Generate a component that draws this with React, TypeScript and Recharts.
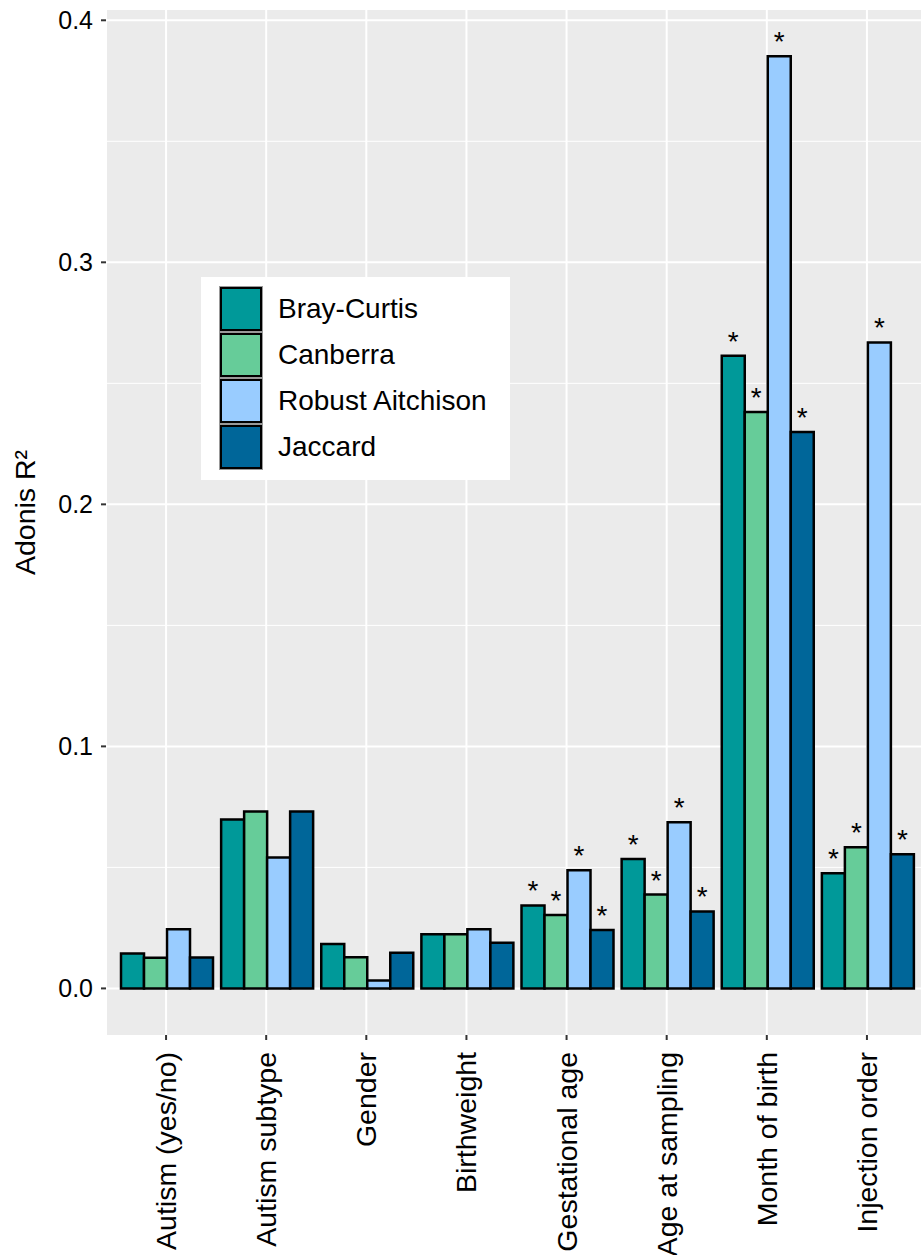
import React from "react";
import {
  BarChart,
  Bar,
  XAxis,
  YAxis,
  CartesianGrid,
  Legend,
  LabelList,
} from "recharts";

const categories = [
  "Autism (yes/no)",
  "Autism subtype",
  "Gender",
  "Birthweight",
  "Gestational age",
  "Age at sampling",
  "Month of birth",
  "Injection order",
];

const brayCurtis = [0.0144, 0.0698, 0.0184, 0.0224, 0.0343, 0.0535, 0.2614, 0.0476];
const canberra = [0.0127, 0.0731, 0.0129, 0.0224, 0.0303, 0.0388, 0.2382, 0.0583];
const robustAitchison = [0.0244, 0.0541, 0.0033, 0.0244, 0.0488, 0.0687, 0.3851, 0.2669];
const jaccard = [0.0128, 0.0731, 0.0147, 0.0189, 0.0241, 0.0318, 0.2299, 0.0554];

const brayCurtisSig = [false, false, false, false, true, true, true, true];
const canberraSig = [false, false, false, false, true, true, true, true];
const robustAitchisonSig = [false, false, false, false, true, true, true, true];
const jaccardSig = [false, false, false, false, true, true, true, true];

const yTicks = [0, 0.1, 0.2, 0.3, 0.4];
const yMinorTicks = [0.05, 0.15, 0.25, 0.35];
const yDomain = [-0.01925, 0.40425];

const series = [
  { key: "bc", name: "Bray-Curtis", color: "#009999" },
  { key: "ca", name: "Canberra", color: "#66CC99" },
  { key: "ra", name: "Robust Aitchison", color: "#99CCFF" },
  { key: "ja", name: "Jaccard", color: "#006699" },
];

const sig = (b: boolean) => (b ? "*" : undefined);

const data = categories.map((c, i) => ({
  category: c,
  bc: brayCurtis[i],
  ca: canberra[i],
  ra: robustAitchison[i],
  ja: jaccard[i],
  bcSig: sig(brayCurtisSig[i]),
  caSig: sig(canberraSig[i]),
  raSig: sig(robustAitchisonSig[i]),
  jaSig: sig(jaccardSig[i]),
}));

const FONT = '"Liberation Sans", Arial, Helvetica, sans-serif';

const XTick = (props: any) => {
  const { x, y, payload } = props;
  return (
    <text
      x={x}
      y={y}
      transform={`rotate(-90 ${x} ${y})`}
      textAnchor="end"
      dominantBaseline="central"
      fontSize={28.5}
      fontFamily={FONT}
      fill="#000"
    >
      {payload.value}
    </text>
  );
};

const YTitle = (props: any) => {
  const vb = props.viewBox || { x: 0, y: 10, width: 106, height: 1025 };
  const cx = vb.x + 25;
  const cy = vb.y + vb.height / 2 - 10;
  return (
    <text
      x={cx}
      y={cy}
      transform={`rotate(-90 ${cx} ${cy})`}
      textAnchor="middle"
      dominantBaseline="central"
      fontSize={28.5}
      fontFamily={FONT}
      fill="#000"
    >
      Adonis R²
    </text>
  );
};

const LegendBox = () => (
  <div
    style={{
      background: "#fff",
      width: 309,
      height: 203,
      boxSizing: "border-box",
      padding: "9px 0 0 18px",
      fontFamily: FONT,
    }}
  >
    {series.map((s) => (
      <div key={s.key} style={{ display: "flex", alignItems: "center", height: 46 }}>
        <div
          style={{
            width: 44,
            height: 46,
            boxSizing: "border-box",
            background: s.color,
            border: "3px solid #000",
            outline: "1px solid #999",
            outlineOffset: -1,
          }}
        />
        <span style={{ marginLeft: 15, fontSize: 28, color: "#000", lineHeight: "46px" }}>
          {s.name}
        </span>
      </div>
    ))}
  </div>
);

export default function App() {
  return (
    <div style={{ position: "absolute", left: 0, top: 0, background: "#fff" }}>
      <BarChart
        width={922}
        height={1255}
        data={data}
        margin={{ top: 10, right: 0, bottom: 0, left: 0 }}
        barCategoryGap="5%"
        barGap={0}
      >
        <CartesianGrid
          fill="#EBEBEB"
          stroke="#FFFFFF"
          strokeWidth={1}
          vertical={false}
          horizontalValues={yMinorTicks}
        />
        <CartesianGrid
          stroke="#FFFFFF"
          strokeWidth={2}
          horizontalValues={yTicks}
        />
        <XAxis
          dataKey="category"
          type="category"
          height={220}
          padding={{ left: 10, right: 5 }}
          axisLine={false}
          tickLine={{ stroke: "#333", strokeWidth: 2 }}
          tickSize={5}
          tickMargin={12}
          tick={<XTick />}
          interval={0}
        />
        <YAxis
          width={106}
          domain={yDomain}
          ticks={yTicks}
          type="number"
          allowDataOverflow
          axisLine={false}
          tickLine={{ stroke: "#333", strokeWidth: 2 }}
          tickSize={5}
          tickMargin={8}
          tick={{ fontSize: 25, fill: "#000", fontFamily: FONT }}
          tickFormatter={(v: number) => v.toFixed(1)}
          label={<YTitle />}
        />
        <Legend
          layout="vertical"
          verticalAlign="middle"
          align="center"
          wrapperStyle={{ position: "absolute", left: 201, top: 277, width: 309 }}
          content={() => <LegendBox />}
        />
        {series.map((s) => (
          <Bar
            key={s.key}
            dataKey={s.key}
            name={s.name}
            fill={s.color}
            stroke="#000"
            strokeWidth={2.5}
            isAnimationActive={false}
          >
            <LabelList
              dataKey={`${s.key}Sig`}
              position="top"
              offset={5}
              fontSize={28}
              fill="#000"
              fontFamily={FONT}
            />
          </Bar>
        ))}
      </BarChart>
    </div>
  );
}
